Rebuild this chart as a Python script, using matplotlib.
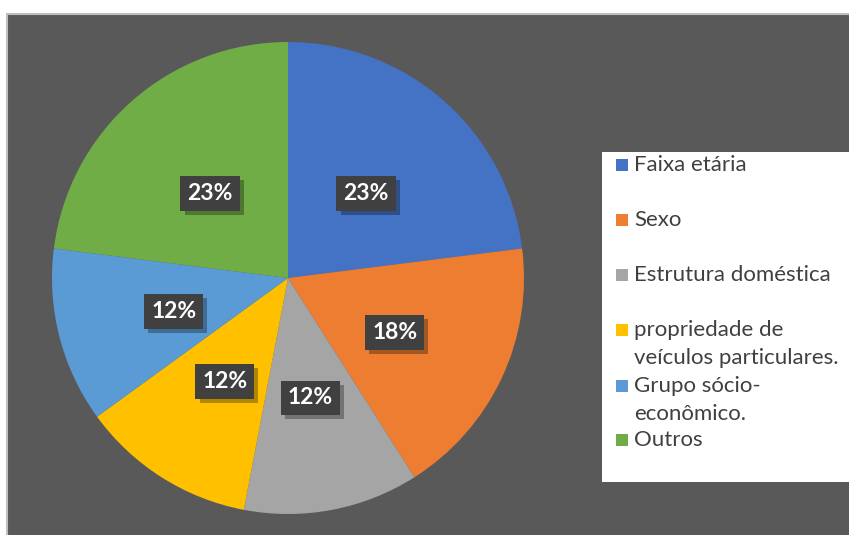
import matplotlib
matplotlib.use("Agg")
import matplotlib.pyplot as plt
import matplotlib.transforms as mtransforms
import matplotlib.patheffects as pe
from matplotlib.patches import Rectangle
import numpy as np

# Fatias do gráfico (percentuais)
categorias = ["Faixa etária", "Sexo", "Estrutura doméstica",
              "propriedade de\nveículos particulares.", "Grupo sócio-\neconômico.", "Outros"]
valores = [23, 18, 12, 12, 12, 23]
cores = ["#4472C4", "#ED7D31", "#A5A5A5", "#FFC000", "#5B9BD5", "#70AD47"]

W, H = 849, 535
fig = plt.figure(figsize=(W / 100, H / 100), dpi=100)
fig.patch.set_facecolor("white")

# fundo escuro da área do gráfico (coordenadas em pixels)
bg = fig.add_axes([0, 0, 1, 1], zorder=0)
bg.set_xlim(0, W)
bg.set_ylim(H, 0)
bg.axis("off")
bg.add_patch(Rectangle((7, 14), W, H, facecolor="#595959", edgecolor="#BFBFBF", linewidth=1.5))

# eixo da pizza: centro (288, 278) px, raio 236 px
cx, cy, r = 288, H - 278, 236
ax = fig.add_axes([(cx - r) / W, (cy - r) / H, 2 * r / W, 2 * r / H], zorder=1)
ax.pie(valores, colors=cores, startangle=90, counterclock=False, radius=1,
       wedgeprops=dict(linewidth=0))
ax.set_xlim(-1, 1)
ax.set_ylim(-1, 1)
ax.axis("off")

# rótulos de porcentagem em caixas escuras com sombra
total = sum(valores)
ang = 90.0
base = mtransforms.offset_copy(ax.transData, fig=fig, x=0, y=-4, units="dots")
for v in valores:
    meio = np.deg2rad(ang - v / total * 180)
    ang -= v / total * 360
    x, y = 0.5 * np.cos(meio), 0.5 * np.sin(meio)
    t = ax.text(x, y, f"{v}%", transform=base, ha="center", va="center", fontsize=16.5,
                fontweight="bold", family="Lato", color="white",
                bbox=dict(boxstyle="square,pad=0.3", fc="#404040", ec="none"))
    t.get_bbox_patch().set_path_effects(
        [pe.SimplePatchShadow(offset=(3, -3), shadow_rgbFace="black", alpha=0.3), pe.Normal()])

# legenda
lg = fig.add_axes([0, 0, 1, 1], zorder=2)
lg.set_xlim(0, W)
lg.set_ylim(H, 0)
lg.axis("off")
lg.add_patch(Rectangle((602, 152), W - 602, 330, facecolor="white", edgecolor="none"))
leg_y = [165, 220, 275, 330, 386, 440]
for cat, cor, y in zip(categorias, cores, leg_y):
    lg.add_patch(Rectangle((616, y - 6), 12, 12, facecolor=cor, edgecolor="none"))
    for i, linha in enumerate(cat.split("\n")):
        lg.text(634, y + 28 * i, linha, ha="left", va="center", fontsize=16,
                family="Lato", color="#404040")

fig.savefig("out.png", dpi=100, facecolor=fig.get_facecolor())
